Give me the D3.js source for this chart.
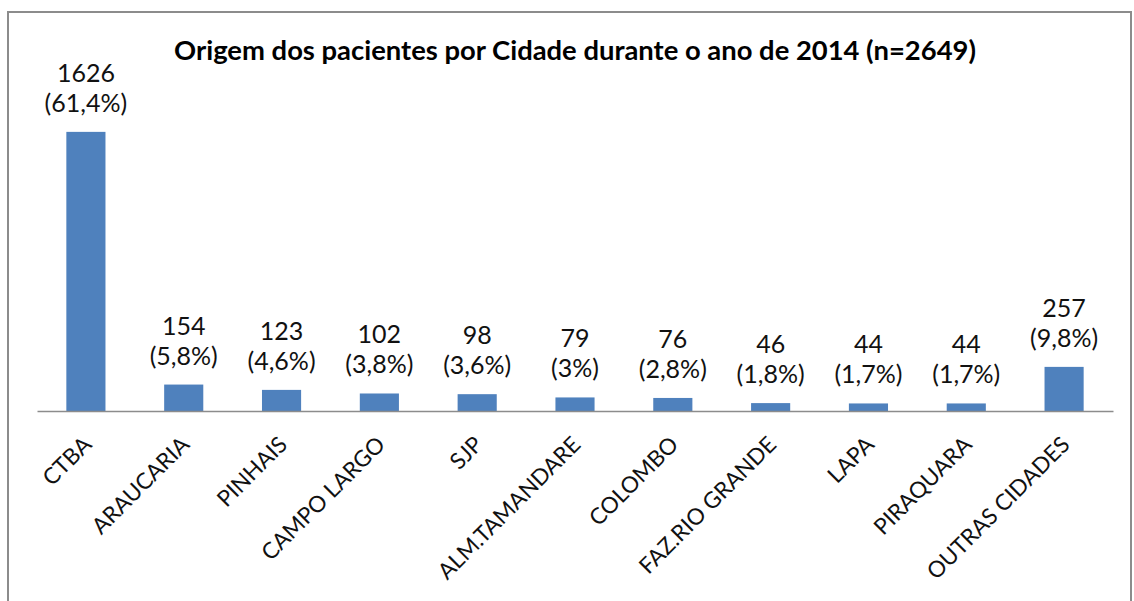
<!DOCTYPE html>
<html>
<head>
<meta charset="utf-8">
<script src="https://cdn.jsdelivr.net/npm/d3@7"></script>
<style>
    body { margin: 0; background: #fff; }
    text { font-family: Lato, "Open Sans", sans-serif; }
</style>
</head>
<body>
<div id="chart"></div>
<script>
"use strict";
const WIDTH = 1134;
const HEIGHT = 601;
const BASELINE_Y = 411;
const PLOT_LEFT = 37;
const PLOT_RIGHT = 1113;
const BAR_COLOR = "#4f81bd";
const FRAME_COLOR = "#8c8c8c";

const TITLE = "Origem dos pacientes por Cidade durante o ano de 2014 (n=2649)";
const cities = ["CTBA", "ARAUCARIA", "PINHAIS", "CAMPO LARGO", "SJP", "ALM.TAMANDARE",
    "COLOMBO", "FAZ.RIO GRANDE", "LAPA", "PIRAQUARA", "OUTRAS CIDADES"];
const patients = [1626, 154, 123, 102, 98, 79, 76, 46, 44, 44, 257];
const percents = ["61,4%", "5,8%", "4,6%", "3,8%", "3,6%", "3%", "2,8%", "1,8%", "1,7%", "1,7%", "9,8%"];

const svg = d3.select("#chart").append("svg")
    .attr("width", WIDTH)
    .attr("height", HEIGHT);

// outer frame
svg.append("rect")
    .attr("x", 8)
    .attr("y", 12)
    .attr("width", 1123)
    .attr("height", 620)
    .attr("fill", "none")
    .attr("stroke", FRAME_COLOR)
    .attr("stroke-width", 2);

svg.append("text")
    .attr("x", 575)
    .attr("y", 60)
    .attr("text-anchor", "middle")
    .style("font-size", "27.4px")
    .style("font-weight", "bold")
    .text(TITLE);

const x = d3.scaleBand()
    .domain(cities)
    .range([PLOT_LEFT, PLOT_RIGHT])
    .paddingInner(0.6)
    .paddingOuter(0.3);

const y = d3.scaleLinear()
    .domain([0, 1800])
    .range([BASELINE_Y, 102]);

svg.selectAll("rect.bar")
    .data(patients)
    .enter()
    .append("rect")
    .attr("class", "bar")
    .attr("x", (d, i) => x(cities[i]))
    .attr("y", d => y(d))
    .attr("width", x.bandwidth())
    .attr("height", d => BASELINE_Y - y(d))
    .attr("fill", BAR_COLOR);

// axis baseline, no ticks
const axis = svg.append("g")
    .attr("transform", "translate(0," + BASELINE_Y + ")")
    .call(d3.axisBottom(x).tickSize(0).tickSizeOuter(0).tickFormat(""));
axis.select(".domain").attr("stroke", FRAME_COLOR).attr("stroke-width", 1.5);

// rotated category labels
svg.selectAll("text.cat")
    .data(cities)
    .enter()
    .append("text")
    .attr("class", "cat")
    .attr("text-anchor", "end")
    .attr("transform", d => "translate(" + (x(d) + x.bandwidth() / 2 + 7) + "," + 446 + ") rotate(-45)")
    .style("font-size", "22.5px")
    .attr("fill", "#111")
    .text(d => d);

// value labels (count and share)
const labels = svg.selectAll("text.val")
    .data(patients)
    .enter()
    .append("text")
    .attr("class", "val")
    .attr("text-anchor", "middle")
    .style("font-size", "25px")
    .attr("fill", "#111");

labels.append("tspan")
    .attr("x", (d, i) => x(cities[i]) + x.bandwidth() / 2)
    .attr("y", d => y(d) - 50)
    .text(d => d);

labels.append("tspan")
    .attr("x", (d, i) => x(cities[i]) + x.bandwidth() / 2)
    .attr("y", d => y(d) - 20)
    .text((d, i) => "(" + percents[i] + ")");
</script>
</body>
</html>
